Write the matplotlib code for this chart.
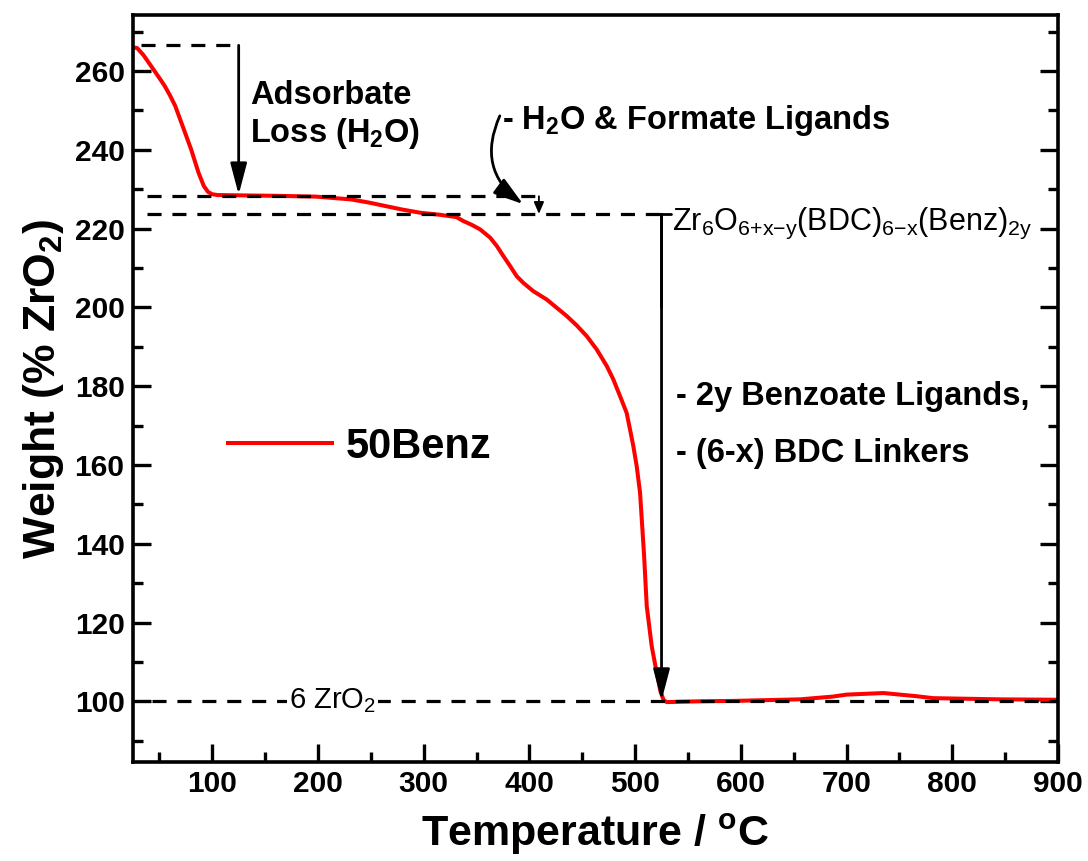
import matplotlib
matplotlib.use("Agg")
import matplotlib.pyplot as plt
from matplotlib.ticker import MultipleLocator

plt.rcParams['font.family'] = ['Liberation Sans', 'DejaVu Sans']
plt.rcParams['mathtext.default'] = 'regular'

# TGA trace (temperature in C, weight in % ZrO2)
temp = [25, 29, 35, 42, 50, 55, 60, 65, 72, 80, 87, 92, 96, 100, 105, 131,
        160, 198, 231, 248, 264, 280, 297, 315, 331, 337.5, 345, 353.3,
        362.8, 369.1, 375.4, 381.7, 388, 394.3, 403.7, 416.3, 425.8, 435.3,
        444.8, 454.2, 463.7, 473.2, 479.4, 485.7, 492, 495.2, 498.3, 501.5,
        504.7, 506.3, 508.5, 511, 515.7, 520.4, 524, 527, 530, 561, 593, 656,
        687, 700, 735, 766, 782, 845, 900]
weight = [266.0, 265.8, 264.0, 261.3, 258.2, 256.2, 253.8, 251.1, 246.0,
          240.1, 234.2, 230.8, 229.3, 228.7, 228.5, 228.4, 228.3, 228.1,
          227.4, 226.6, 225.7, 224.8, 224.0, 223.5, 222.9, 221.9, 221.0,
          219.8, 217.7, 215.6, 213.0, 210.5, 207.9, 206.2, 204.1, 202.0,
          199.9, 197.8, 195.4, 192.7, 189.3, 185.1, 181.7, 177.5, 173.2,
          169.0, 164.8, 159.7, 152.9, 146.2, 137.0, 124.2, 114.0, 107.3,
          102.5, 100.3, 99.8, 100.0, 100.1, 100.5, 101.2, 101.7, 102.1,
          101.3, 100.8, 100.5, 100.4]

# dashed reference levels: level, start, end
ref_levels = [266.5, 228.2, 223.6, 100.0]
ref_start = [33, 38, 38, 43]
ref_end = [125, 412, 525, 900]

fig = plt.figure(figsize=(10.88, 8.61), dpi=100)
ax = fig.add_axes([0.1222, 0.115, 0.8502, 0.8676])

ax.plot(temp, weight, color='#ff0000', lw=2.9, label='50Benz', zorder=2)

for lev, x0, x1 in zip(ref_levels, ref_start, ref_end):
    ax.plot([x0, x1], [lev, lev], color='k', lw=2.3, dashes=(4.4, 3.4), zorder=3)

head = dict(color='k', lw=2, shrinkA=0, shrinkB=0, mutation_scale=20,
            arrowstyle='-|>,head_length=0.95,head_width=0.25')
cap = dict(color='k', lw=2, shrinkA=0, shrinkB=0, mutation_scale=20,
           arrowstyle=']-,widthA=0.35,lengthA=0')

bold = dict(fontsize=23.5, fontweight='bold', ha='left', va='center')

# adsorbate loss arrow
ax.annotate('', xy=(125, 228.6), xytext=(125, 266.5), arrowprops=head, zorder=4)
ax.text(136, 248.6, 'Adsorbate\nLoss (H$_2$O)', linespacing=1.2, **bold)

# formate arrow
ax.annotate('', xy=(409, 223.7), xytext=(409, 228.2), zorder=4,
            arrowprops=dict(color='k', lw=1.3, shrinkA=0, shrinkB=0, mutation_scale=10,
                            arrowstyle='-|>,head_length=0.7,head_width=0.3'))
ax.annotate('', xy=(394, 226.2), xytext=(372, 248.6), zorder=4,
            arrowprops=dict(color='k', lw=2, shrinkA=0, shrinkB=0, mutation_scale=20,
                            arrowstyle='-|>,head_length=0.9,head_width=0.28',
                            connectionstyle='arc3,rad=0.4'))
ax.text(374, 247.3, '- H$_2$O & Formate Ligands', **bold)

# framework decomposition arrow
ax.annotate('', xy=(525, 100.2), xytext=(525, 223.6), arrowprops=head, zorder=4)
ax.annotate('', xy=(525, 200), xytext=(525, 223.6), arrowprops=cap, zorder=4)
ax.text(535, 219.6, 'Zr$_6$O$_{6{+}x{-}y}$(BDC)$_{6{-}x}$(Benz)$_{2y}$', fontsize=22,
        ha='left', va='baseline')
ax.text(539, 177.3, '- 2y Benzoate Ligands,', **bold)
ax.text(539, 162.8, '- (6-x) BDC Linkers', **bold)

ax.text(214, 100.1, '6 ZrO$_2$', fontsize=21, ha='center', va='center', zorder=5,
        bbox=dict(facecolor='white', edgecolor='none', pad=1.5))

ax.set_xlim(25, 900)
ax.set_ylim(84.6, 274.2)
ax.xaxis.set_major_locator(MultipleLocator(100))
ax.xaxis.set_minor_locator(MultipleLocator(50))
ax.yaxis.set_major_locator(MultipleLocator(20))
ax.yaxis.set_minor_locator(MultipleLocator(10))

for s in ax.spines.values():
    s.set_linewidth(2.6)
ax.tick_params(which='both', direction='in', top=False, right=True, width=2.4)
ax.tick_params(which='major', length=13, pad=6, labelsize=21.5)
ax.tick_params(which='minor', length=7)
for lab in ax.get_xticklabels() + ax.get_yticklabels():
    lab.set_fontweight('bold')

ax.set_xlabel('Temperature / $^o$C', fontsize=31, fontweight='bold', labelpad=10)
ax.set_ylabel('Weight (% ZrO$_2$)', fontsize=32, fontweight='bold', labelpad=6)

ax.legend(loc='center left', bbox_to_anchor=(0.103, 0.422), frameon=False,
          borderpad=0, borderaxespad=0, handlelength=2.5, handletextpad=0.33,
          prop=dict(size=30, weight='bold'))

fig.savefig('out.png', dpi=100)
